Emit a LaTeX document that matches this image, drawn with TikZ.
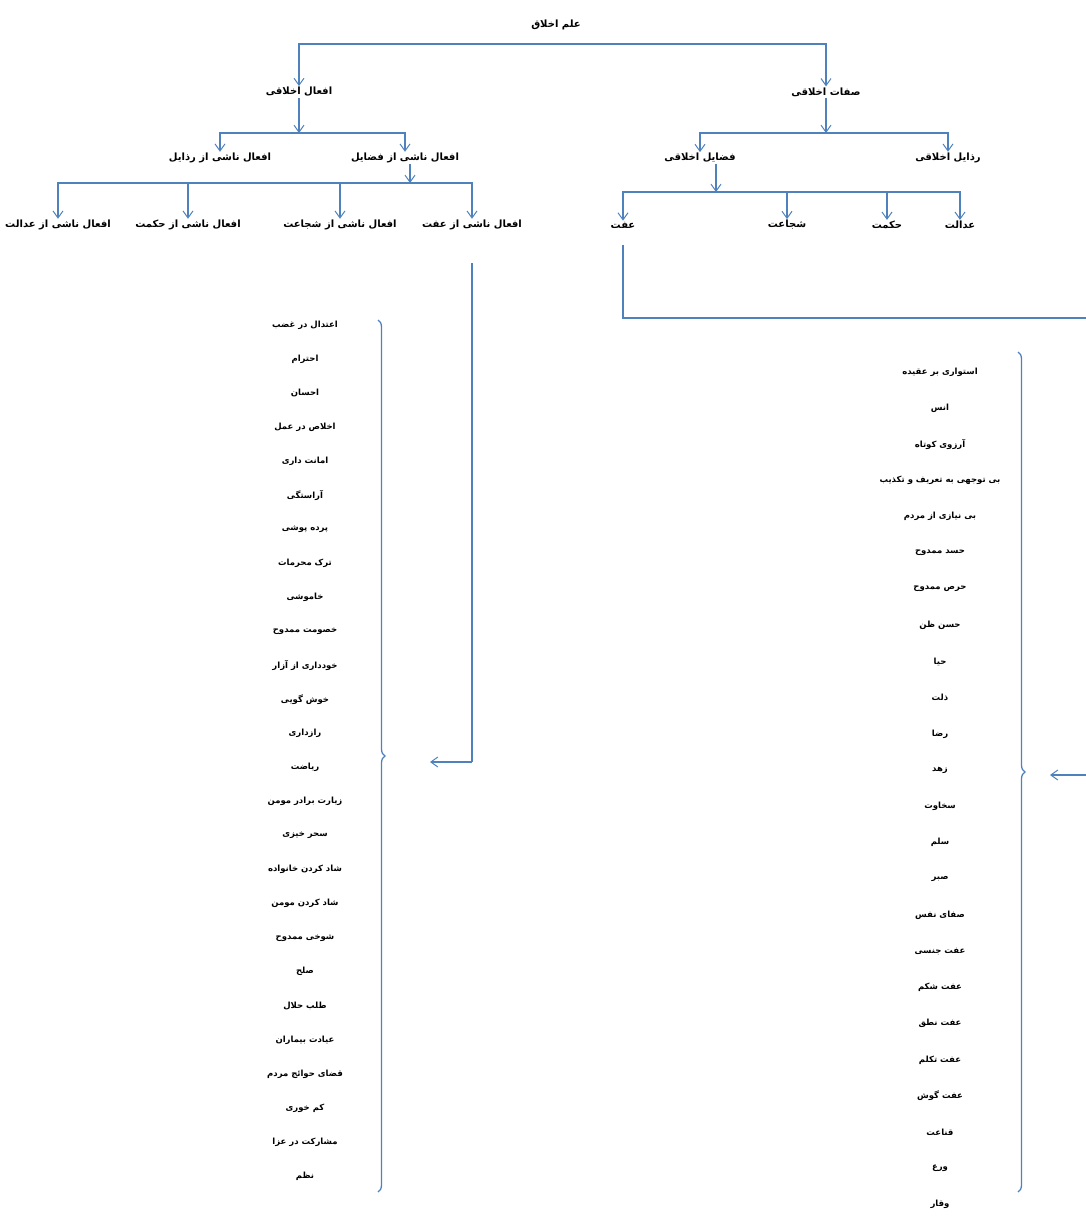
\documentclass[tikz,border=0pt]{standalone}
\usepackage{fontspec}
\usetikzlibrary{arrows.meta,calc,positioning,decorations.pathreplacing}
\TeXXeTstate=1
\newfontfamily\farsi[Script=Arabic]{DejaVu Sans}
\definecolor{LineBlue}{HTML}{4F81BD}
\newcommand{\fa}[1]{\beginR#1\endR}

\begin{document}
\begin{tikzpicture}[
  x=1pt,
  y=-1pt,
  lbl/.style={font=\farsi\bfseries\fontsize{10}{12}\selectfont,inner sep=1pt,text=black},
  item/.style={lbl,font=\farsi\bfseries\fontsize{8.5}{10}\selectfont},
  link/.style={draw=LineBlue,line width=1.6pt},
  arr/.style={link,-{Straight Barb[length=7pt,width=10pt,line width=1pt]}},
  brc/.style={draw=LineBlue,line width=1.3pt,decorate,
    decoration={brace,amplitude=7pt,aspect=0.5}}
]
  \useasboundingbox (0,0) rectangle (1086,1216);

  \node[lbl] (root) at (556,25) {\fa{علم اخلاق}};
  \node[lbl] (acts) at (299,92) {\fa{افعال اخلاقی}};
  \node[lbl] (traits) at (826,92) {\fa{صفات اخلاقی}};

  \node[lbl] (actsVice) at (220,158) {\fa{افعال ناشی از رذایل}};
  \node[lbl] (actsVirt) at (405,158) {\fa{افعال ناشی از فضایل}};
  \node[lbl] (virt) at (700,158) {\fa{فضایل اخلاقی}};
  \node[lbl] (vice) at (948,158) {\fa{رذایل اخلاقی}};

  \node[lbl] (a1) at (58,225) {\fa{افعال ناشی از عدالت}};
  \node[lbl] (a2) at (188,225) {\fa{افعال ناشی از حکمت}};
  \node[lbl] (a3) at (340,225) {\fa{افعال ناشی از شجاعت}};
  \node[lbl] (a4) at (472,225) {\fa{افعال ناشی از عفت}};
  \node[lbl] (v1) at (623,225) {\fa{عفت}};
  \node[lbl] (v2) at (787,225) {\fa{شجاعت}};
  \node[lbl] (v3) at (887,225) {\fa{حکمت}};
  \node[lbl] (v4) at (960,225) {\fa{عدالت}};

  \coordinate (bar1) at (556,44);
  \coordinate (bar2) at (299,133);
  \coordinate (bar3) at (826,133);
  \coordinate (bar4) at (410,183);
  \coordinate (bar5) at (716,192);

  \draw[link] (acts |- bar1) -- (traits |- bar1);
  \draw[arr] (bar1) -| (acts);
  \draw[arr] (bar1) -| (traits);

  \draw[arr] (acts) -- (bar2);
  \draw[link] (actsVice |- bar2) -- (actsVirt |- bar2);
  \draw[arr] (bar2) -| (actsVice);
  \draw[arr] (bar2) -| (actsVirt);
  \draw[arr] (traits) -- (bar3);
  \draw[link] (virt |- bar3) -- (vice |- bar3);
  \draw[arr] (bar3) -| (virt);
  \draw[arr] (bar3) -| (vice);

  \draw[arr] (actsVirt.south -| bar4) -- (bar4);
  \draw[link] (a1 |- bar4) -- (a4 |- bar4);
  \foreach \n in {a1,a2,a3,a4} {
    \draw[arr] (bar4) -| (\n);
  }
  \draw[arr] (virt.south -| bar5) -- (bar5);
  \draw[link] (v1 |- bar5) -- (v4 |- bar5);
  \foreach \n in {v1,v2,v3,v4} {
    \draw[arr] (bar5) -| (\n);
  }

  % list of acts
  \foreach \t [count=\i] in {اعتدال در غضب,احترام,احسان,اخلاص در عمل,امانت داری,آراستگی,
    پرده پوشی,ترک محرمات,خاموشی,خصومت ممدوح,خودداری از آزار,خوش گویی,رازداری,ریاضت,
    زیارت برادر مومن,سحر خیزی,شاد کردن خانواده,شاد کردن مومن,شوخی ممدوح,صلح,طلب حلال,
    عیادت بیماران,قضای حوائج مردم,کم خوری,مشارکت در عزا,نظم} {
    \node[item] (p\i) at (305,{325+34.04*(\i-1)}) {\fa{\t}};
  }
  \draw[brc] (378,320) -- (378,1192);
  \coordinate (tipL) at (430,762);
  \draw[link,shorten <=32pt] (a4.south) |- ($(tipL)+(42,0)$) coordinate (cornL);
  \draw[arr] (cornL) -- (tipL);

  % list of virtues
  \foreach \t [count=\i] in {استواری بر عقیده,انس,آرزوی کوتاه,بی توجهی به تعریف و تکذیب,
    بی نیازی از مردم,حسد ممدوح,حرص ممدوح,حسن ظن,حیا,ذلت,رضا,زهد,سخاوت,سلم,صبر,
    صفای نفس,عفت جنسی,عفت شکم,عفت نطق,عفت تکلم,عفت گوش,قناعت,ورع,وقار} {
    \node[item] (q\i) at (940,{372+36.2*(\i-1)}) {\fa{\t}};
  }
  \draw[brc] (1018,352) -- (1018,1192);
  \coordinate (exitR) at (1086,318);
  \coordinate (entR) at (1086,775);
  \coordinate (tipR) at (1050,775);
  \draw[link,shorten <=16pt] (v1.south) |- (exitR);
  \draw[arr] (entR) -- (tipR);
\end{tikzpicture}
\end{document}
